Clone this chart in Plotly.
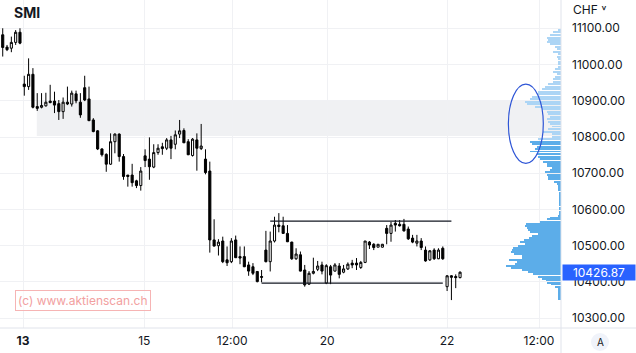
import plotly.graph_objects as go

# ---- candle data (30-min bars, SMI) ----
opens = [11082, 11048, 11045, 11061, 11089, 10946, 10939, 10973, 10884, 10882,
         10886, 10899, 10899, 10892, 10870, 10896, 10891, 10919, 10896, 10936,
         10905, 10847, 10817, 10767, 10752, 10725, 10787, 10808, 10746, 10695,
         10695, 10679, 10666, 10748, 10739, 10717, 10757, 10773, 10769, 10792,
         10780, 10808, 10818, 10787, 10749, 10792, 10768, 10739, 10706, 10516,
         10500, 10513, 10461, 10456, 10516, 10470, 10470, 10447, 10442, 10429,
         10415, 10488, 10456, 10513, 10557, 10555, 10534, 10510, 10464, 10475,
         10433, 10394, 10424, 10435, 10447, 10397, 10442, 10430, 10444, 10427,
         10436, 10452, 10452, 10440, 10454, 10510, 10504, 10496, 10496, 10548,
         10534, 10562, 10559, 10559, 10546, 10521, 10507, 10513, 10488, 10461,
         10488, 10464, 10493, 10387, 10417, 10415, 10412]
highs = [11100, 11054, 11077, 11095, 11100, 10969, 11017, 10990, 10921, 10921,
         10922, 10944, 10925, 10902, 10909, 10939, 10928, 10928, 10921, 10969,
         10939, 10852, 10819, 10769, 10755, 10810, 10810, 10810, 10753, 10695,
         10726, 10682, 10717, 10766, 10799, 10780, 10780, 10784, 10797, 10803,
         10818, 10847, 10824, 10794, 10797, 10810, 10836, 10766, 10732, 10573,
         10518, 10525, 10498, 10521, 10528, 10498, 10498, 10456, 10452, 10430,
         10433, 10541, 10539, 10580, 10590, 10580, 10557, 10511, 10493, 10484,
         10447, 10430, 10467, 10458, 10456, 10449, 10447, 10452, 10452, 10447,
         10454, 10461, 10466, 10458, 10513, 10513, 10507, 10504, 10505, 10557,
         10566, 10571, 10571, 10574, 10553, 10530, 10530, 10521, 10498, 10488,
         10493, 10493, 10498, 10419, 10419, 10421, 10429]
lows = [11022, 11037, 11034, 11054, 11056, 10914, 10930, 10879, 10872, 10879,
        10884, 10893, 10866, 10847, 10850, 10888, 10884, 10893, 10853, 10899,
        10845, 10813, 10764, 10746, 10704, 10723, 10755, 10732, 10682, 10663,
        10663, 10659, 10652, 10717, 10682, 10714, 10751, 10751, 10764, 10739,
        10766, 10797, 10784, 10750, 10746, 10707, 10764, 10697, 10481, 10498,
        10473, 10452, 10444, 10452, 10466, 10449, 10441, 10417, 10419, 10399,
        10399, 10454, 10429, 10509, 10537, 10534, 10510, 10461, 10461, 10429,
        10387, 10392, 10421, 10430, 10421, 10394, 10394, 10429, 10410, 10424,
        10433, 10438, 10433, 10436, 10452, 10491, 10488, 10496, 10495, 10504,
        10511, 10539, 10553, 10539, 10516, 10507, 10498, 10488, 10456, 10458,
        10461, 10463, 10461, 10375, 10350, 10383, 10410]
closes = [11047, 11041, 11061, 11089, 11059, 10939, 10973, 10882, 10879, 10887,
          10896, 10895, 10888, 10870, 10896, 10891, 10921, 10900, 10861, 10902,
          10845, 10815, 10767, 10751, 10725, 10787, 10808, 10746, 10691, 10691,
          10674, 10666, 10706, 10735, 10718, 10757, 10769, 10768, 10792, 10769,
          10806, 10817, 10784, 10751, 10794, 10769, 10775, 10702, 10516, 10499,
          10510, 10456, 10453, 10513, 10467, 10466, 10442, 10430, 10424, 10401,
          10413, 10456, 10513, 10557, 10553, 10534, 10511, 10464, 10477, 10430,
          10392, 10424, 10429, 10444, 10430, 10445, 10419, 10447, 10421, 10436,
          10449, 10447, 10447, 10454, 10513, 10502, 10495, 10504, 10504, 10534,
          10557, 10557, 10555, 10541, 10519, 10510, 10513, 10495, 10458, 10486,
          10464, 10488, 10464, 10417, 10413, 10412, 10427]
bar_index = list(range(len(opens)))
last_price = 10426.87

# ---- axis ticks ----
x_tick_vals = [4.7, 32.8, 53.2, 75.2, 103.0, 124.3]
x_tick_text = ["<b>13</b>", "15", "12:00", "20", "22", "12:00"]
y_tick_vals = [10300, 10400, 10500, 10600, 10700, 10800, 10900, 11000, 11100]

# ---- volume profile (visible range) ----
profile_price_upper = [11095, 11089, 11082, 11074, 11068, 11061, 11056, 11049, 11043, 11035,
                       11028, 11022, 11015, 11008, 11001, 10994, 10988, 10980, 10973, 10966,
                       10960, 10953, 10945, 10939, 10933, 10925, 10918, 10911, 10905, 10897,
                       10891, 10884, 10877, 10870, 10863, 10856, 10850, 10842, 10835, 10829,
                       10822, 10815, 10808, 10801, 10795, 10787, 10781, 10773, 10767, 10760,
                       10752, 10746, 10739, 10732, 10725]
profile_vol_upper = [8, 23, 33, 43, 38, 43, 33, 18, 13, 23,
                     8, 13, 10, 8, 8, 8, 18, 23, 13, 18,
                     23, 23, 38, 48, 58, 68, 73, 88, 93, 108,
                     103, 78, 58, 43, 38, 33, 43, 38, 33, 28,
                     38, 53, 28, 28, 68, 93, 88, 73, 78, 93,
                     73, 68, 63, 53, 43]
profile_price_lower = [10720, 10715, 10709, 10703, 10695, 10689, 10683, 10677, 10670, 10665,
                       10659, 10653, 10646, 10641, 10635, 10629, 10623, 10617, 10612, 10605,
                       10600, 10594, 10588, 10583, 10577, 10573, 10566, 10561, 10555, 10550,
                       10544, 10539, 10533, 10528, 10522, 10517, 10511, 10506, 10500, 10494,
                       10488, 10483, 10477, 10472, 10466, 10460, 10454, 10449, 10444, 10438,
                       10432, 10427, 10421, 10415, 10409, 10404, 10398, 10393, 10387, 10381,
                       10375, 10369, 10363, 10358, 10352]
profile_vol_lower = [43, 28, 33, 48, 43, 40, 38, 20, 13, 10,
                     10, 8, 6, 6, 6, 6, 6, 6, 6, 6,
                     6, 6, 6, 8, 33, 43, 63, 106, 108, 103,
                     98, 93, 70, 86, 96, 110, 123, 108, 130, 143,
                     148, 150, 140, 118, 116, 156, 133, 138, 165, 150,
                     116, 98, 83, 70, 58, 46, 43, 30, 18, 10,
                     8, 8, 8, 8, 8]
value_area_top = 10792

# ---- drawings ----
resistance = dict(x0=62, x1=104, y=10568)
support = dict(x0=60, x1=102, y=10397)
zone = dict(x0=7.9, y0=10803, y1=10900)
ellipse = dict(x0=117.2, x1=125.3, y0=10727, y1=10946)

W, H = 636, 353
ML, MR, MT, MB = 0, 75, 0, 25
PW, PH = W - ML - MR, H - MT - MB
FONT = "Inter, Roboto, sans-serif"
TXT = "#131722"
GRID = "#f0f1f4"
BORDER = "#e0e3eb"

prof_price = profile_price_upper + profile_price_lower
prof_vol = profile_vol_upper + profile_vol_lower
prof_col = ["#acd5f5" if p >= value_area_top else "#5cade9" for p in prof_price]

fig = go.Figure()
fig.add_trace(go.Bar(x=prof_vol, y=prof_price, orientation="h", xaxis="x2", yaxis="y",
                     width=2.6, marker=dict(color=prof_col, line=dict(width=0)),
                     hoverinfo="skip"))
fig.add_trace(go.Candlestick(
    x=bar_index, open=opens, high=highs, low=lows, close=closes,
    increasing=dict(line=dict(color="#000000", width=1), fillcolor="#ffffff"),
    decreasing=dict(line=dict(color="#000000", width=1), fillcolor="#000000"),
    whiskerwidth=0, hoverinfo="skip"))

shapes = [
    dict(type="rect", xref="x", yref="y", x0=zone["x0"], x1=129.4, y0=zone["y0"], y1=zone["y1"],
         fillcolor="#f0f1f3", line=dict(width=0), layer="below"),
    dict(type="line", xref="x", yref="y", x0=resistance["x0"], x1=resistance["x1"],
         y0=resistance["y"], y1=resistance["y"], line=dict(color=TXT, width=1.3)),
    dict(type="line", xref="x", yref="y", x0=support["x0"], x1=support["x1"],
         y0=support["y"], y1=support["y"], line=dict(color=TXT, width=1.3)),
    dict(type="circle", xref="x", yref="y", x0=ellipse["x0"], x1=ellipse["x1"],
         y0=ellipse["y0"], y1=ellipse["y1"], line=dict(color="#2e55d6", width=1.2)),
    # axis borders
    dict(type="line", xref="paper", yref="paper", x0=1, x1=1, y0=-MB / PH, y1=1,
         line=dict(color=BORDER, width=1)),
    dict(type="line", xref="paper", yref="paper", x0=0, x1=W / PW, y0=0, y1=0,
         line=dict(color=BORDER, width=1)),
    # "A" button
    dict(type="circle", xref="paper", yref="paper", x0=591 / PW, x1=609 / PW,
         y0=(PH - 351) / PH, y1=(PH - 333) / PH, fillcolor="#f0f3fa", line=dict(width=0)),
]

annotations = [
    dict(text="<b>SMI</b>", xref="paper", yref="paper", x=12 / PW, y=(PH - 12) / PH,
         xanchor="left", yanchor="middle", showarrow=False, font=dict(size=14, color=TXT, family=FONT)),
    dict(text="CHF ˅", xref="paper", yref="paper", x=571 / PW, y=(PH - 9) / PH,
         xanchor="left", yanchor="middle", showarrow=False, font=dict(size=12, color=TXT, family=FONT)),
    dict(text="(c) www.aktienscan.ch", xref="paper", yref="paper", x=15 / PW, y=(PH - 300.5) / PH,
         xanchor="left", yanchor="middle", showarrow=False,
         font=dict(size=12, color="#f2a0a0", family=FONT),
         bordercolor="#f6b4b4", borderwidth=1, borderpad=2, bgcolor="rgba(255,255,255,0.6)"),
    dict(text=f"{last_price:.2f}", xref="paper", yref="y", x=1, y=last_price,
         xanchor="left", yanchor="middle", showarrow=False, xshift=1,
         font=dict(size=12, color="#ffffff", family=FONT), bgcolor="#2962ff",
         width=70, height=13, borderpad=1),
    dict(text="A", xref="paper", yref="paper", x=600 / PW, y=(PH - 342) / PH,
         xanchor="center", yanchor="middle", showarrow=False,
         font=dict(size=10, color=TXT, family=FONT)),
]

fig.update_layout(
    width=W, height=H, margin=dict(l=ML, r=MR, t=MT, b=MB),
    paper_bgcolor="#ffffff", plot_bgcolor="#ffffff",
    showlegend=False, hovermode=False, bargap=0,
    font=dict(family=FONT, size=12, color=TXT),
    xaxis=dict(range=[-0.63, 129.4], tickmode="array", tickvals=x_tick_vals, ticktext=x_tick_text,
               showgrid=True, gridcolor=GRID, zeroline=False, showline=False, ticks="",
               rangeslider=dict(visible=False), tickfont=dict(size=12, color=TXT),
               ticklabelstandoff=4, fixedrange=True),
    xaxis2=dict(overlaying="x", range=[PW * 3, 0], visible=False, fixedrange=True),
    yaxis=dict(side="right", range=[10273, 11178], tickmode="array", tickvals=y_tick_vals,
               tickformat=".2f", showgrid=True, gridcolor=GRID, zeroline=False, showline=False,
               ticks="", tickfont=dict(size=12, color=TXT), ticklabelstandoff=10, fixedrange=True),
    shapes=shapes, annotations=annotations,
)

fig.write_html("out.html")
